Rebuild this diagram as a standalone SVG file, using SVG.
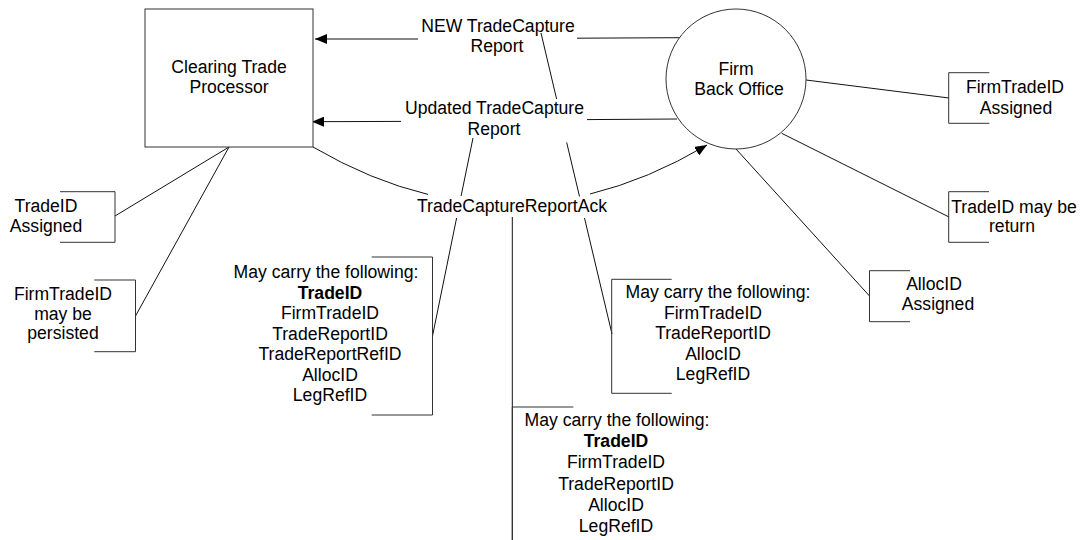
<svg xmlns="http://www.w3.org/2000/svg" width="1087" height="540" viewBox="0 0 1087 540">
<style>
text{font-family:"Liberation Sans",Arial,sans-serif;font-size:17.6px;fill:#000;text-anchor:middle}
.b{font-weight:bold}
.shape{fill:#fff;stroke:#333;stroke-width:1}
.br{fill:none;stroke:#333;stroke-width:1}
.c{fill:none;stroke:#111;stroke-width:1}
</style>
<defs>
<marker id="ah" markerWidth="12" markerHeight="10" refX="12" refY="5" orient="auto" markerUnits="userSpaceOnUse">
<path d="M0,0 L12,5 L0,10 Z" fill="#000"/>
</marker>
</defs>
<rect width="1087" height="540" fill="#fff"/>

<g id="connectors">
<path class="c" d="M681,37.7 L577,38.2 M418,39 L315,39" marker-end="url(#ah)"/>
<path class="c" d="M677,119 L587,119.6 M401,121.4 L312,121.7" marker-end="url(#ah)"/>
<path class="c" d="M313,147 Q370.5,180.6 428,194.4 M590,194 Q648.5,179.7 707,145" marker-end="url(#ah)"/>
<path class="c" d="M541,33 L556.6,99 M566.7,142.5 L579.5,196.5 M584.5,218 L612,334"/>
<path class="c" d="M473,138 L461.1,196 M456.6,218 L432.5,336"/>
<path class="c" d="M512.3,217 L512.3,540"/>
<path class="c" d="M229,147 L115,216"/>
<path class="c" d="M229,147 L135.5,316"/>
<path class="c" d="M806,80 L949,98"/>
<path class="c" d="M781.7,133.3 L949,217"/>
<path class="c" d="M736,149 L869.5,296"/>
</g>

<g id="clearing-trade-processor">
<rect class="shape" x="145" y="9" width="168" height="138"/>
<text x="229" y="73">Clearing Trade</text>
<text x="229" y="93">Processor</text>
</g>

<g id="firm-back-office">
<circle class="shape" cx="736" cy="79" r="70"/>
<text x="736" y="75">Firm</text>
<text x="739" y="95">Back Office</text>
</g>

<g id="label-new">
<text x="498" y="32">NEW TradeCapture</text>
<text x="497" y="52">Report</text>
</g>

<g id="label-updated">
<text x="494.5" y="114">Updated TradeCapture</text>
<text x="494" y="135">Report</text>
</g>

<g id="label-ack">
<text x="512" y="212">TradeCaptureReportAck</text>
</g>

<g id="note-tradeid-assigned">
<path class="br" d="M60,191.7 H115 V242.3 H60"/>
<text x="46" y="212">TradeID</text>
<text x="46" y="232">Assigned</text>
</g>

<g id="note-firmtradeid-persisted">
<path class="br" d="M94.3,280 H135.5 V351.7 H94.3"/>
<text x="63" y="300">FirmTradeID</text>
<text x="63" y="319.5">may be</text>
<text x="63" y="339">persisted</text>
</g>

<g id="note-left-carry">
<path class="br" d="M371.7,257 H432.5 V415 H371.7"/>
<text x="326" y="278">May carry the following:</text>
<text x="330" y="298.5" class="b">TradeID</text>
<text x="330" y="319">FirmTradeID</text>
<text x="330" y="339.5">TradeReportID</text>
<text x="330" y="360">TradeReportRefID</text>
<text x="330" y="380.5">AllocID</text>
<text x="330" y="401">LegRefID</text>
</g>

<g id="note-right-carry">
<path class="br" d="M671.7,279.3 H611.7 V393.3 H671.7"/>
<text x="718" y="298">May carry the following:</text>
<text x="713" y="318.5">FirmTradeID</text>
<text x="713" y="339">TradeReportID</text>
<text x="713" y="359.5">AllocID</text>
<text x="713" y="380">LegRefID</text>
</g>

<g id="note-bottom-carry">
<path class="br" d="M573.3,407 H512.3 V545"/>
<text x="617" y="426">May carry the following:</text>
<text x="616" y="447.2" class="b">TradeID</text>
<text x="616" y="468.4">FirmTradeID</text>
<text x="616" y="489.6">TradeReportID</text>
<text x="616" y="510.8">AllocID</text>
<text x="616" y="532">LegRefID</text>
</g>

<g id="note-firmtradeid-assigned">
<path class="br" d="M989.3,72.7 H948.7 V123.3 H989.3"/>
<text x="1015" y="93">FirmTradeID</text>
<text x="1016" y="114">Assigned</text>
</g>

<g id="note-tradeid-return">
<path class="br" d="M989,191.7 H948.7 V242.3 H989"/>
<text x="1014" y="213">TradeID may be</text>
<text x="1012" y="232">return</text>
</g>

<g id="note-allocid-assigned">
<path class="br" d="M910,270.7 H869.5 V321.7 H910"/>
<text x="934" y="290">AllocID</text>
<text x="938" y="309.5">Assigned</text>
</g>
</svg>
